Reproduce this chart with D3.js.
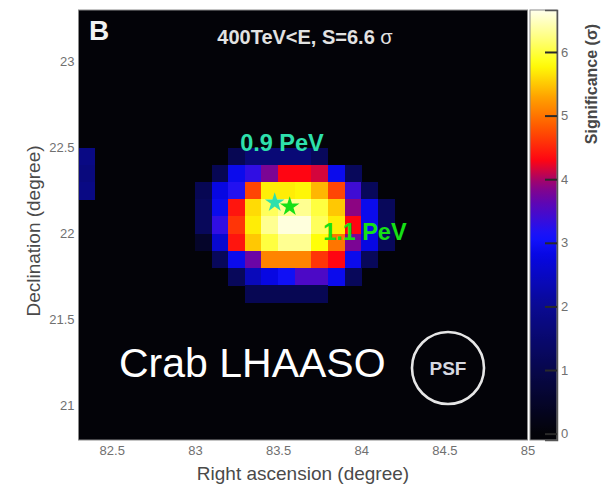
<!DOCTYPE html>
<html>
<head>
<meta charset="utf-8">
<script src="https://cdn.jsdelivr.net/npm/d3@7"></script>
<style>
  html, body { margin: 0; padding: 0; background: #ffffff; }
  svg { display: block; font-family: "Liberation Sans", Arial, Helvetica, sans-serif; }
</style>
</head>
<body>
<svg id="chart" width="607" height="485"></svg>
<script>
// Significance map, 0.1° bins: lower RA edge of each column, lower Dec edge of each row
const raBins  = [83.0, 83.1, 83.2, 83.3, 83.4, 83.5, 83.6, 83.7, 83.8, 83.9, 84.0, 84.1];
const decBins = [22.4, 22.3, 22.2, 22.1, 22.0, 21.9, 21.8, 21.7, 21.6];
const significance = [
  [0.0, 0.0, 1.1, 1.6, 1.6, 1.6, 1.6, 1.2, 0.0, 0.0, 0.0, 0.0],
  [0.0, 1.1, 2.9, 3.3, 3.8, 4.3, 4.3, 4.15, 2.9, 1.2, 0.0, 0.0],
  [1.1, 2.8, 3.2, 4.7, 5.7, 5.7, 5.75, 5.4, 4.7, 3.4, 1.2, 0.0],
  [1.2, 2.9, 4.4, 5.6, 6.1, 6.3, 6.3, 6.0, 5.5, 3.9, 2.9, 1.2],
  [1.2, 3.3, 4.6, 5.7, 6.3, 6.6, 6.6, 6.1, 5.7, 4.3, 2.9, 1.2],
  [0.5, 2.6, 4.4, 5.5, 6.0, 6.3, 6.3, 5.8, 5.0, 3.8, 2.8, 1.2],
  [0.0, 1.2, 2.9, 3.7, 5.1, 5.1, 5.1, 4.6, 4.3, 2.9, 1.2, 0.0],
  [0.0, 0.0, 1.2, 2.4, 2.8, 3.0, 3.5, 3.5, 2.9, 1.2, 0.0, 0.0],
  [0.0, 0.0, 0.0, 1.1, 1.1, 1.1, 1.1, 1.1, 0.0, 0.0, 0.0, 0.0]
];
// Weak excess at the western edge of the map
const edgeRA  = [82.3, 82.3, 82.3];
const edgeDec = [22.4, 22.3, 22.2];
const edgeSig = [1.8, 1.7, 1.8];

const binSize = 0.1;

// Axis ticks
const raTicks  = [82.5, 83, 83.5, 84, 84.5, 85];
const decTicks = [21, 21.5, 22, 22.5, 23];
const sigTicks = [0, 1, 2, 3, 4, 5, 6];

// Colour map stops (significance -> colour)
const sigStops   = [0, 1, 2, 2.8, 3.1, 3.6, 3.9, 4.3, 4.8, 5.3, 5.8, 6.2, 6.66];
const stopColors = ["#030308", "#07074c", "#0a0a92", "#0707e2", "#1414ff", "#5a06b8", "#8c0482",
                    "#ff0512", "#ff5500", "#ffa400", "#ffff08", "#ffff78", "#ffffec"];

// Estimated source positions and energies
const photonLabels = ["0.9 PeV", "1.1 PeV"];
const photonRA     = [83.48, 83.57];
const photonDec    = [22.18, 22.157];
const photonColors = ["#2ee0ac", "#16e016"];
const labelRA      = [83.272, 83.77];
const labelDec     = [22.48, 21.962];

const svg = d3.select("#chart");

const x = d3.scaleLinear().domain([82.3, 85.0]).range([78.5, 527.5]);
const y = d3.scaleLinear().domain([20.8, 23.3]).range([440, 10]);
const color = d3.scaleLinear().domain(sigStops).range(stopColors).interpolate(d3.interpolateRgb).clamp(true);

// Plot background
svg.append("rect")
  .attr("x", x(82.3)).attr("y", y(23.3))
  .attr("width", x(85.0) - x(82.3)).attr("height", y(20.8) - y(23.3))
  .attr("fill", color(0));

// Heat-map cells
const cells = [];
decBins.forEach((dec, i) => raBins.forEach((ra, j) => {
  if (significance[i][j] > 0) cells.push({ ra, dec, s: significance[i][j] });
}));
edgeRA.forEach((ra, k) => cells.push({ ra, dec: edgeDec[k], s: edgeSig[k] }));

svg.append("g").selectAll("rect").data(cells).join("rect")
  .attr("x", d => x(d.ra))
  .attr("y", d => y(d.dec + binSize))
  .attr("width", d => x(d.ra + binSize) - x(d.ra) + 0.3)
  .attr("height", d => y(d.dec) - y(d.dec + binSize) + 0.3)
  .attr("fill", d => color(d.s))
  .attr("shape-rendering", "crispEdges");

// Plot frame
svg.append("rect")
  .attr("x", x(82.3)).attr("y", y(23.3))
  .attr("width", x(85.0) - x(82.3)).attr("height", y(20.8) - y(23.3))
  .attr("fill", "none").attr("stroke", "#8a8a8a").attr("stroke-width", 1);

// Axes
const xAxis = svg.append("g")
  .attr("transform", `translate(0,${y(20.8)})`)
  .call(d3.axisBottom(x).tickValues(raTicks).tickFormat(d => String(d)).tickSize(0).tickPadding(6));
const yAxis = svg.append("g")
  .attr("transform", `translate(${x(82.3)},0)`)
  .call(d3.axisLeft(y).tickValues(decTicks).tickFormat(d => String(d)).tickSize(0).tickPadding(4));
[xAxis, yAxis].forEach(g => {
  g.select(".domain").remove();
  g.selectAll("text").attr("fill", "#707070").attr("font-size", 13)
    .attr("font-family", "Liberation Sans, Arial, sans-serif");
});

svg.append("text")
  .attr("x", (x(82.3) + x(85.0)) / 2).attr("y", 480)
  .attr("text-anchor", "middle").attr("font-size", 19).attr("fill", "#4a4a4a")
  .text("Right ascension (degree)");
svg.append("text")
  .attr("transform", `translate(40,${(y(20.8) + y(23.3)) / 2 + 6}) rotate(-90)`)
  .attr("text-anchor", "middle").attr("font-size", 19).attr("fill", "#4a4a4a")
  .text("Declination (degree)");

// Panel letter and title
svg.append("text").attr("x", 89).attr("y", 40)
  .attr("font-size", 28).attr("font-weight", "bold").attr("fill", "#f2f2f2").text("B");
const title = svg.append("text").attr("x", 305).attr("y", 44)
  .attr("text-anchor", "middle").attr("font-size", 20).attr("fill", "#e2e2e2");
title.append("tspan").attr("font-weight", "bold").text("400TeV<E, S=6.6 ");
title.append("tspan").attr("font-weight", "normal").text("σ");

// Photon markers and energy labels
const star = d3.symbol().type(d3.symbolStar).size(120);
svg.append("g").selectAll("path").data(photonRA).join("path")
  .attr("d", star)
  .attr("transform", (d, i) => `translate(${x(d)},${y(photonDec[i])})`)
  .attr("fill", (d, i) => photonColors[i]);
svg.append("g").selectAll("text").data(photonLabels).join("text")
  .attr("x", (d, i) => x(labelRA[i]))
  .attr("y", (d, i) => y(labelDec[i]))
  .attr("font-size", 23.5).attr("font-weight", "bold")
  .attr("fill", (d, i) => photonColors[i])
  .text(d => d);

// Source name
svg.append("text").attr("x", 119).attr("y", 377)
  .attr("font-size", 41).attr("fill", "#ffffff").text("Crab LHAASO");

// PSF circle
svg.append("circle").attr("cx", 448).attr("cy", 368).attr("r", 36)
  .attr("fill", "none").attr("stroke", "#e6e6e6").attr("stroke-width", 2.6);
svg.append("text").attr("x", 448).attr("y", 375)
  .attr("text-anchor", "middle").attr("font-size", 19).attr("font-weight", "bold")
  .attr("fill", "#d6d8e0").text("PSF");

// Colour bar
const cb = d3.scaleLinear().domain([-0.1, 6.66]).range([440, 10]);
const cbX = 530, cbW = 27;
const defs = svg.append("defs");
const grad = defs.append("linearGradient").attr("id", "sigGrad")
  .attr("x1", 0).attr("y1", 1).attr("x2", 0).attr("y2", 0);
d3.range(0, 61).forEach(k => {
  const v = -0.1 + (6.76 * k) / 60;
  grad.append("stop").attr("offset", k / 60).attr("stop-color", color(v));
});
svg.append("rect").attr("x", cbX).attr("y", cb(6.66))
  .attr("width", cbW).attr("height", cb(-0.1) - cb(6.66))
  .attr("fill", "url(#sigGrad)").attr("stroke", "#8a8a8a").attr("stroke-width", 1);

const cbAxis = svg.append("g")
  .attr("transform", `translate(${cbX + cbW},0)`)
  .call(d3.axisRight(cb).tickValues(sigTicks).tickFormat(d => String(d)).tickSize(-12).tickPadding(4));
cbAxis.select(".domain").attr("stroke", "#555").attr("stroke-width", 1.5);
cbAxis.selectAll(".tick line").attr("stroke", "#2a2a2a").attr("stroke-width", 2);
cbAxis.selectAll("text").attr("fill", "#707070").attr("font-size", 13)
  .attr("font-family", "Liberation Sans, Arial, sans-serif");

svg.append("text")
  .attr("transform", `translate(597,84) rotate(-90)`)
  .attr("text-anchor", "middle").attr("font-size", 16).attr("font-weight", "bold").attr("fill", "#474747")
  .text("Significance (σ)");
</script>
</body>
</html>
